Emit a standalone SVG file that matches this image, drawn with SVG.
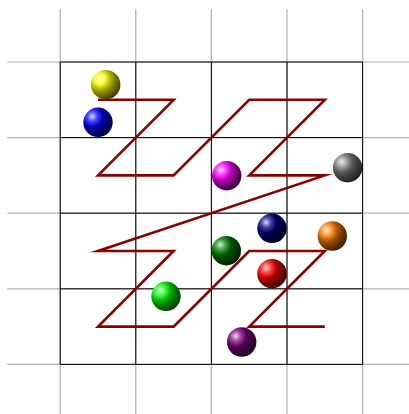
<svg xmlns="http://www.w3.org/2000/svg" width="409" height="414" viewBox="0 0 409 414">
<defs>
<radialGradient id="g-yellow" cx="0.3" cy="0.3" r="1"><stop offset="0" stop-color="#ffffd9"/><stop offset="0.18" stop-color="#ffff40"/><stop offset="0.36" stop-color="#b3b300"/><stop offset="0.5" stop-color="#808000"/><stop offset="1" stop-color="#000"/></radialGradient>
<radialGradient id="g-blue" cx="0.3" cy="0.3" r="1"><stop offset="0" stop-color="#d9d9ff"/><stop offset="0.18" stop-color="#4040ff"/><stop offset="0.36" stop-color="#0000b3"/><stop offset="0.5" stop-color="#000080"/><stop offset="1" stop-color="#000"/></radialGradient>
<radialGradient id="g-magenta" cx="0.3" cy="0.3" r="1"><stop offset="0" stop-color="#ffd9ff"/><stop offset="0.18" stop-color="#ff40ff"/><stop offset="0.36" stop-color="#b300b3"/><stop offset="0.5" stop-color="#800080"/><stop offset="1" stop-color="#000"/></radialGradient>
<radialGradient id="g-gray" cx="0.3" cy="0.3" r="1"><stop offset="0" stop-color="#ececec"/><stop offset="0.18" stop-color="#a0a0a0"/><stop offset="0.36" stop-color="#595959"/><stop offset="0.5" stop-color="#404040"/><stop offset="1" stop-color="#000"/></radialGradient>
<radialGradient id="g-green" cx="0.3" cy="0.3" r="1"><stop offset="0" stop-color="#d9ffd9"/><stop offset="0.18" stop-color="#40ff40"/><stop offset="0.36" stop-color="#00b300"/><stop offset="0.5" stop-color="#008000"/><stop offset="1" stop-color="#000"/></radialGradient>
<radialGradient id="g-navy" cx="0.3" cy="0.3" r="1"><stop offset="0" stop-color="#d9d9ec"/><stop offset="0.18" stop-color="#4040a0"/><stop offset="0.36" stop-color="#000059"/><stop offset="0.5" stop-color="#000040"/><stop offset="1" stop-color="#000"/></radialGradient>
<radialGradient id="g-darkgreen" cx="0.3" cy="0.3" r="1"><stop offset="0" stop-color="#d9ecd9"/><stop offset="0.18" stop-color="#40a040"/><stop offset="0.36" stop-color="#005900"/><stop offset="0.5" stop-color="#004000"/><stop offset="1" stop-color="#000"/></radialGradient>
<radialGradient id="g-orange" cx="0.3" cy="0.3" r="1"><stop offset="0" stop-color="#ffecd9"/><stop offset="0.18" stop-color="#ffa040"/><stop offset="0.36" stop-color="#b35900"/><stop offset="0.5" stop-color="#804000"/><stop offset="1" stop-color="#000"/></radialGradient>
<radialGradient id="g-red" cx="0.3" cy="0.3" r="1"><stop offset="0" stop-color="#ffd9d9"/><stop offset="0.18" stop-color="#ff4040"/><stop offset="0.36" stop-color="#b30000"/><stop offset="0.5" stop-color="#800000"/><stop offset="1" stop-color="#000"/></radialGradient>
<radialGradient id="g-violet" cx="0.3" cy="0.3" r="1"><stop offset="0" stop-color="#ecd9ec"/><stop offset="0.18" stop-color="#a040a0"/><stop offset="0.36" stop-color="#590059"/><stop offset="0.5" stop-color="#400040"/><stop offset="1" stop-color="#000"/></radialGradient>
</defs>
<style>
.help{stroke:#b0b0b0;stroke-width:1.2;fill:none}
.grid{stroke:#000;stroke-width:1;fill:none}
.curve{stroke:#8a0000;stroke-width:2.6;fill:none;stroke-linejoin:miter;stroke-miterlimit:10}
</style>
<rect width="409" height="414" fill="#fff"/>
<g id="helpgrid" class="help">
<path d="M7.3,62H416M7.3,137.6H416M7.3,213.2H416M7.3,288.8H416M7.3,364.4H416"/>
<path d="M60.2,9.3V417M135.8,9.3V417M211.4,9.3V417M287,9.3V417M362.6,9.3V417"/>
</g>
<g id="grid" class="grid">
<path d="M60.2,62H362.6M60.2,137.6H362.6M60.2,213.2H362.6M60.2,288.8H362.6M60.2,364.4H362.6"/>
<path d="M60.2,62V364.4M135.8,62V364.4M211.4,62V364.4M287,62V364.4M362.6,62V364.4"/>
</g>
<g id="connectors">
<path class="curve" d="M98,99.8L173.6,99.8L98,175.4L173.6,175.4L249.2,99.8L324.8,99.8L249.2,175.4L324.8,175.4L98,251L173.6,251L98,326.6L173.6,326.6L249.2,251L324.8,251L249.2,326.6L324.8,326.6"/>
</g>
<g id="ball-yellow"><circle cx="105.7" cy="84.7" r="14.7" fill="url(#g-yellow)"/></g>
<g id="ball-blue"><circle cx="98" cy="122.3" r="14.7" fill="url(#g-blue)"/></g>
<g id="ball-magenta"><circle cx="226.7" cy="175.7" r="14.7" fill="url(#g-magenta)"/></g>
<g id="ball-gray"><circle cx="347.6" cy="167.7" r="14.7" fill="url(#g-gray)"/></g>
<g id="ball-navy"><circle cx="272" cy="228.3" r="14.7" fill="url(#g-navy)"/></g>
<g id="ball-darkgreen"><circle cx="226.3" cy="250.7" r="14.7" fill="url(#g-darkgreen)"/></g>
<g id="ball-orange"><circle cx="332.3" cy="236" r="14.7" fill="url(#g-orange)"/></g>
<g id="ball-red"><circle cx="272" cy="273.7" r="14.7" fill="url(#g-red)"/></g>
<g id="ball-green"><circle cx="166" cy="296.3" r="14.7" fill="url(#g-green)"/></g>
<g id="ball-violet"><circle cx="241.7" cy="342" r="14.7" fill="url(#g-violet)"/></g>
</svg>
